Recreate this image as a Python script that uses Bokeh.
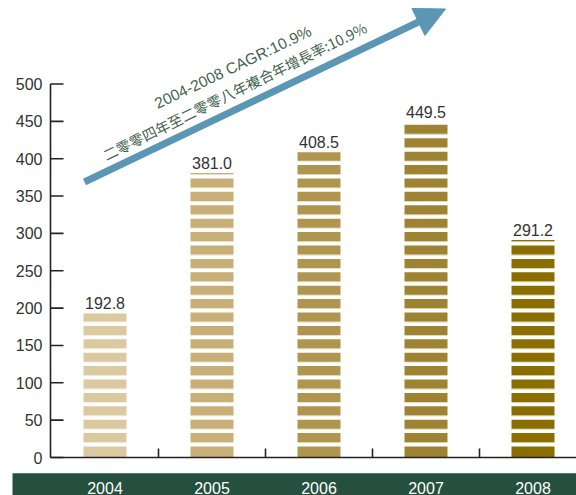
import math
import numpy as np
from bokeh.plotting import figure
from bokeh.models import Range1d, Arrow, NormalHead, Label
from bokeh.core.properties import value
from bokeh.embed import file_html
from bokeh.resources import INLINE

# ---------------- data ----------------
years = ["2004", "2005", "2006", "2007", "2008"]
values = [192.8, 381.0, 408.5, 449.5, 291.2]
value_labels = ["192.8", "381.0", "408.5", "449.5", "291.2"]
y_ticks = [0, 50, 100, 150, 200, 250, 300, 350, 400, 450, 500]
y_tick_labels = [str(t) for t in y_ticks]
cagr_en = "2004-2008 CAGR:10.9%"
cagr_zh = "二零零四年至二零零八年複合年增長率:10.9%"

# ---------------- style ----------------
bar_colors = ["#DBCAA0", "#C8AF77", "#B0954F", "#9E8332", "#8A6E00"]
band_color = "#25503D"
arrow_color = "#5B97B5"
cagr_color = "#45644F"
axis_color = "#222222"
label_color = "#333333"
FONT = "Liberation Sans"

# page-pixel layout mapping (page px -> data units)
X0, SX = 104.5, 107.0   # centre of first category, px per category
Y0, SY = 457.0, 0.747   # baseline px, px per unit


def dx(px):
    return (px - X0) / SX


def dy(py):
    return (Y0 - py) / SY


def mix(c, t):
    r, g, b = int(c[1:3], 16), int(c[3:5], 16), int(c[5:7], 16)
    r, g, b = [int(v + (255 - v) * t) for v in (r, g, b)]
    return "#%02x%02x%02x" % (r, g, b)


p = figure(width=576, height=495, x_range=Range1d(dx(0), dx(576)),
           y_range=Range1d(dy(495), dy(0)), output_backend="svg",
           toolbar_location=None, x_axis_location=None, y_axis_location=None,
           min_border=0, outline_line_color=None,
           background_fill_color="white", border_fill_color="white")
p.grid.visible = False
p.xgrid.grid_line_color = None
p.ygrid.grid_line_color = None

# ---------------- striped bars ----------------
PERIOD = 17.94   # stripe period (units)
OFF = 2.68       # gap below each stripe
STRIPE = 12.05   # stripe height
BAR_W = 43 / SX

sx, sb, st, sc = [], [], [], []
lx, lb, lt, lc = [], [], [], []
for i, v in enumerate(values):
    k = 0
    while k * PERIOD + (OFF if k else 0) < v:
        bot = 0.0 if k == 0 else k * PERIOD + OFF
        top = min(k * PERIOD + OFF + STRIPE, v)
        sx.append(i); sb.append(bot); st.append(top); sc.append(bar_colors[i])
        if k > 0:
            lx.append(i); lb.append(bot - 1.2); lt.append(bot); lc.append(mix(bar_colors[i], 0.6))
        k += 1

p.vbar(x=lx, bottom=lb, top=lt, width=BAR_W, fill_color=lc, line_color=None)
p.vbar(x=sx, bottom=sb, top=st, width=BAR_W, fill_color=sc, line_color=None)

# value labels
xi = list(range(len(years)))
p.text(x=xi, y=values, text=value_labels, text_font=value(FONT), text_font_size="16px",
       text_align="center", text_baseline="alphabetic", text_color=label_color, y_offset=-10)

# ---------------- axes (drawn in frame) ----------------
ax_x = dx(50)
p.segment(x0=[ax_x], y0=[0], x1=[ax_x], y1=[max(y_ticks)], line_color=axis_color, line_width=1.6)
p.segment(x0=[ax_x] * len(y_ticks), y0=y_ticks, x1=[dx(63)] * len(y_ticks), y1=y_ticks,
          line_color=axis_color, line_width=1.6)
p.text(x=[dx(42)] * len(y_ticks), y=y_ticks, text=y_tick_labels, text_font=value(FONT),
       text_font_size="16px", text_align="right", text_baseline="middle", text_color=label_color)

p.segment(x0=[ax_x], y0=[0], x1=[dx(580)], y1=[0], line_color=axis_color, line_width=1.6)
xt = [i + 0.5 for i in range(len(years) - 1)]
p.segment(x0=xt, y0=[0] * len(xt), x1=xt, y1=[9 / SY] * len(xt), line_color=axis_color, line_width=1.6)

# green band with year labels
p.quad(left=[dx(12)], right=[dx(580)], bottom=[dy(500)], top=[dy(472.7)],
       fill_color=band_color, line_color=None)
p.text(x=xi, y=[dy(487)] * len(years), text=years, text_font=value(FONT), text_font_size="16px",
       text_align="center", text_baseline="middle", text_color="white")

# ---------------- CAGR arrow and texts ----------------
p.add_layout(Arrow(x_start=dx(84), y_start=dy(181.5), x_end=dx(445), y_end=dy(8.5),
                   line_color=arrow_color, line_width=7,
                   end=NormalHead(size=30, fill_color=arrow_color, line_color=arrow_color)))

p.add_layout(Label(x=dx(155), y=dy(103.5), text=cagr_en, angle=math.radians(25.5),
                   text_font=FONT, text_font_size="15.5px", text_color=cagr_color,
                   text_align="left", text_baseline="alphabetic"))
p.add_layout(Label(x=dx(103), y=dy(155), text=cagr_zh, angle=math.radians(26.3),
                   text_font="Noto Sans CJK TC", text_font_size="14.5px", text_color=cagr_color,
                   text_align="left", text_baseline="alphabetic"))

open("out.html", "w").write(file_html(p, INLINE))
